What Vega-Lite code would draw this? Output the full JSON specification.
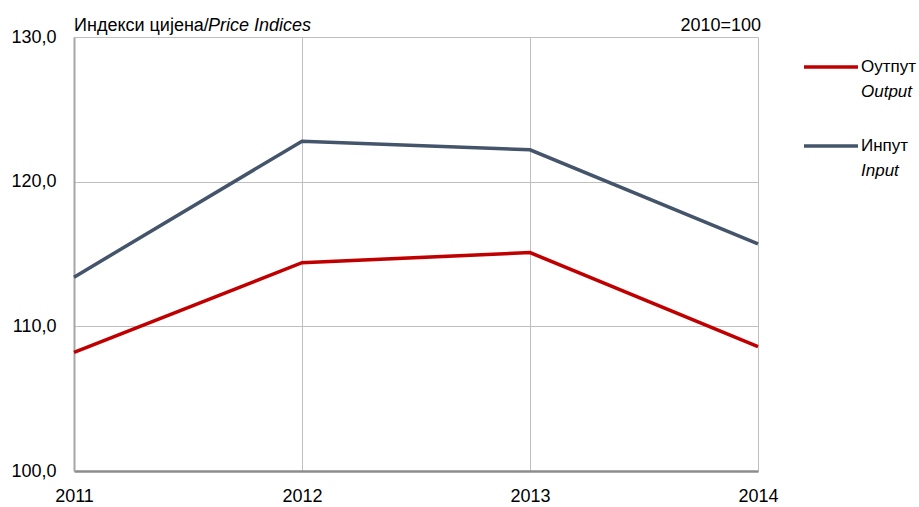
{
  "$schema": "https://vega.github.io/schema/vega-lite/v6.json",
  "background": "white",
  "padding": {"left": 10, "top": 17, "right": 2, "bottom": 0},
  "bounds": "flush",
  "spacing": 46,
  "config": {"view": {"stroke": null}, "font": "Liberation Sans"},
  "datasets": {
    "series": [
      {"year": 2011, "series": "Output", "value": 108.2},
      {"year": 2012, "series": "Output", "value": 114.4},
      {"year": 2013, "series": "Output", "value": 115.1},
      {"year": 2014, "series": "Output", "value": 108.6},
      {"year": 2011, "series": "Input", "value": 113.4},
      {"year": 2012, "series": "Input", "value": 122.8},
      {"year": 2013, "series": "Input", "value": 122.2},
      {"year": 2014, "series": "Input", "value": 115.7}
    ],
    "legend": [
      {"series": "Output", "line1": "Оутпут", "line2": "Output"},
      {"series": "Input", "line1": "Инпут", "line2": "Input"}
    ]
  },
  "hconcat": [
    {
      "width": 684,
      "height": 434,
      "layer": [
        {
          "data": {"name": "series"},
          "mark": {"type": "line", "strokeWidth": 3.5},
          "encoding": {
            "x": {"field": "year", "type": "ordinal", "scale": {"type": "point", "padding": 0},
              "axis": {"labelAngle": 0, "title": null, "grid": true, "gridColor": "#BFBFBF", "domainColor": "#8C8C8C", "domainWidth": 2.5, "ticks": false, "labelFontSize": 18, "labelPadding": 16, "labelColor": "#000000"}},
            "y": {"field": "value", "type": "quantitative", "scale": {"domain": [100, 130], "nice": false, "zero": false},
              "axis": {"values": [100, 110, 120, 130], "labelExpr": "replace(format(datum.value, '.1f'), '.', ',')", "title": null, "grid": true, "gridColor": "#BFBFBF", "domainColor": "#A6A6A6", "domainWidth": 2, "ticks": false, "labelFontSize": 18, "labelPadding": 18, "labelColor": "#000000"}},
            "color": {"field": "series", "type": "nominal", "scale": {"domain": ["Output", "Input"], "range": ["#C00000", "#44546A"]}, "legend": null}
          }
        },
        {
          "data": {"values": [{"t": "Индекси цијена/"}]},
          "mark": {"type": "text", "align": "left", "baseline": "alphabetic", "dy": -6, "fontSize": 18, "color": "#000000"},
          "encoding": {"x": {"datum": 2011, "type": "ordinal"}, "y": {"datum": 130, "type": "quantitative"}, "text": {"field": "t"}}
        },
        {
          "data": {"values": [{"t": "Price Indices"}]},
          "mark": {"type": "text", "align": "left", "baseline": "alphabetic", "dy": -6, "dx": 134, "fontSize": 18, "fontStyle": "italic", "color": "#000000"},
          "encoding": {"x": {"datum": 2011, "type": "ordinal"}, "y": {"datum": 130, "type": "quantitative"}, "text": {"field": "t"}}
        },
        {
          "data": {"values": [{"t": "2010=100"}]},
          "mark": {"type": "text", "align": "right", "baseline": "alphabetic", "dy": -6, "dx": 3, "fontSize": 18, "color": "#000000"},
          "encoding": {"x": {"datum": 2014, "type": "ordinal"}, "y": {"datum": 130, "type": "quantitative"}, "text": {"field": "t"}}
        }
      ]
    },
    {
      "width": 54,
      "height": 139,
      "data": {"name": "legend"},
      "encoding": {
        "y": {"field": "series", "type": "nominal", "scale": {"type": "point", "domain": ["Output", "Input"], "padding": 0.38}, "axis": null}
      },
      "layer": [
        {
          "mark": {"type": "point", "shape": "M-1,0L1,0", "size": 2916, "strokeWidth": 3.5, "filled": false, "opacity": 1},
          "encoding": {"color": {"field": "series", "type": "nominal", "scale": {"domain": ["Output", "Input"], "range": ["#C00000", "#44546A"]}, "legend": null}}
        },
        {
          "mark": {"type": "text", "align": "left", "baseline": "middle", "dx": 30, "fontSize": 17, "color": "#000000"},
          "encoding": {"text": {"field": "line1"}}
        },
        {
          "mark": {"type": "text", "align": "left", "baseline": "middle", "dx": 30, "dy": 25, "fontSize": 17, "fontStyle": "italic", "color": "#000000"},
          "encoding": {"text": {"field": "line2"}}
        }
      ]
    }
  ]
}
